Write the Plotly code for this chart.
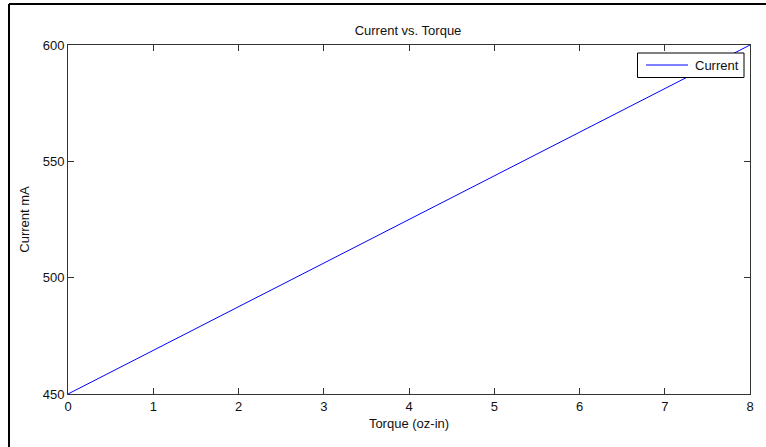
import plotly.graph_objects as go

torque = [0, 8]
current = [450, 600]
x_ticks = [0, 1, 2, 3, 4, 5, 6, 7, 8]
y_ticks = [450, 500, 550, 600]
series_name = "Current"

L, R, T, B = 68, 16, 45, 53
W, H = 766, 447
pw, ph = W - L - R, H - T - B

def px(xp):
    return (xp - L) / pw

def py(yp):
    return (H - B - yp) / ph

FONT = "Liberation Sans, Arial"
TXT = "#111111"

fig = go.Figure()
fig.add_trace(go.Scatter(x=torque, y=current, mode="lines", name=series_name,
                         line=dict(color="#0000ff", width=1), showlegend=False))

axis_common = dict(showgrid=False, zeroline=False, showline=True, linecolor="#333333",
                   linewidth=1, mirror="allticks", ticks="inside", ticklen=6,
                   tickcolor="#333333", tickfont=dict(family=FONT, size=13, color=TXT))

fig.update_xaxes(range=[0, 8], tickvals=x_ticks, **axis_common,
                 title=dict(text="Torque (oz-in)", font=dict(family=FONT, size=13, color=TXT), standoff=6))
fig.update_yaxes(range=[450, 600], tickvals=y_ticks, **axis_common,
                 title=dict(text="Current mA", font=dict(family=FONT, size=13, color=TXT), standoff=10))

# manual legend box (MATLAB style)
lx0, lx1, ly0, ly1 = 637.5, 744, 53, 77.5
shapes = [
    dict(type="line", xref="paper", yref="paper", x0=px(9), x1=px(W + 2), y0=py(4), y1=py(4),
         line=dict(color="black", width=2)),
    dict(type="line", xref="paper", yref="paper", x0=px(9), x1=px(9), y0=py(4), y1=py(H + 2),
         line=dict(color="black", width=2)),
    dict(type="rect", xref="paper", yref="paper", x0=px(lx0), x1=px(lx1), y0=py(ly1), y1=py(ly0),
         line=dict(color="black", width=1), fillcolor="white", layer="above"),
    dict(type="line", xref="paper", yref="paper", x0=px(646), x1=px(688), y0=py(65), y1=py(65),
         line=dict(color="#0000ff", width=1), layer="above"),
]

fig.update_layout(
    width=W, height=H,
    margin=dict(l=L, r=R, t=T, b=B),
    paper_bgcolor="white", plot_bgcolor="white",
    title=dict(text="Current vs. Torque", xref="container", x=408 / W, xanchor="center",
               yref="container", y=1 - 30 / H, yanchor="middle",
               font=dict(family=FONT, size=13, color=TXT)),
    showlegend=False,
    shapes=shapes,
    annotations=[dict(text=series_name, xref="paper", yref="paper", x=px(693), y=py(65.5),
                      xanchor="left", yanchor="middle", showarrow=False,
                      font=dict(family=FONT, size=13, color=TXT))],
)

fig.write_html("out.html", config={"displayModeBar": False},
               post_script="document.body.style.margin='0';document.body.style.overflow='hidden';")
